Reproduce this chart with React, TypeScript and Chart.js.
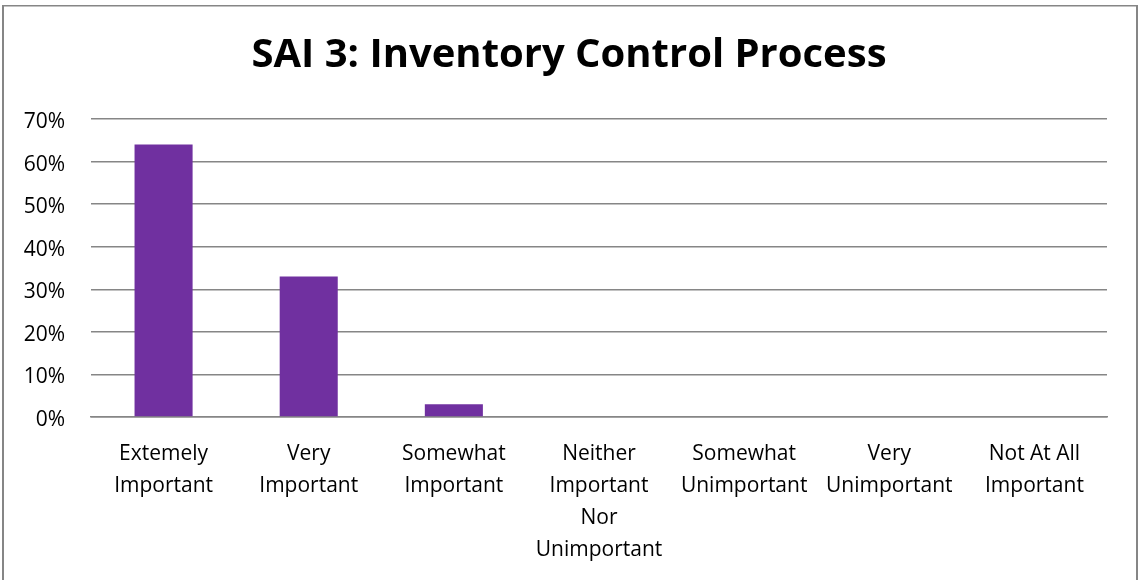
import React, { useEffect, useRef } from "react";
import { Chart, registerables } from "chart.js";

Chart.register(...registerables);

const titleText = "SAI 3: Inventory Control Process";
const categories: string[][] = [
  ["Extemely", "Important"],
  ["Very", "Important"],
  ["Somewhat", "Important"],
  ["Neither", "Important", "Nor", "Unimportant"],
  ["Somewhat", "Unimportant"],
  ["Very", "Unimportant"],
  ["Not At All", "Important"],
];
const values: number[] = [64, 33, 3, 0, 0, 0, 0];
const yTicks: number[] = [0, 10, 20, 30, 40, 50, 60, 70];

const FONT = "'Open Sans', 'DejaVu Sans', sans-serif";

const borderPlugin = {
  id: "outerBorder",
  afterLayout(chart: any) {
    // center the title on the whole canvas, like the reference
    if (chart.titleBlock) {
      chart.titleBlock.left = 0;
      chart.titleBlock.right = chart.width;
      chart.titleBlock.width = chart.width;
    }
  },
  afterDraw(chart: any) {
    const ctx = chart.ctx;
    ctx.save();
    ctx.fillStyle = "#868686";
    ctx.fillRect(2, 5, 2, chart.height - 5);
    ctx.fillRect(2, 5, chart.width - 4, 1.5);
    ctx.fillRect(chart.width - 2, 5, 2, chart.height - 5);
    ctx.restore();
  },
};

export default function App() {
  const ref = useRef<HTMLCanvasElement | null>(null);
  useEffect(() => {
    if (!ref.current) return;
    const chart = new Chart(ref.current, {
      type: "bar",
      data: {
        labels: categories,
        datasets: [
          {
            data: values,
            backgroundColor: "#7030A0",
            borderWidth: 0,
            barPercentage: 0.4,
            categoryPercentage: 1,
          },
        ],
      },
      options: {
        animation: false,
        responsive: true,
        maintainAspectRatio: false,
        layout: { padding: { top: 0, left: 0, right: 31, bottom: 0 } },
        plugins: {
          legend: { display: false },
          tooltip: { enabled: false },
          title: {
            display: true,
            text: titleText,
            color: "#000",
            font: { family: FONT, size: 40, weight: "bold", lineHeight: 1.2 },
            padding: { top: 32, bottom: 39 },
          },
        },
        scales: {
          x: {
            afterFit(scale: any) {
              scale.height = 163;
            },
            grid: { display: false, drawTicks: false },
            border: { display: true, color: "#868686", width: 1.5 },
            ticks: {
              color: "#000",
              font: { family: FONT, size: 21, lineHeight: 1.52 },
              padding: 21,
              maxRotation: 0,
              autoSkip: false,
            },
          },
          y: {
            min: 0,
            max: 70,
            afterFit(scale: any) {
              scale.width = 91;
            },
            afterBuildTicks(scale: any) {
              scale.ticks = yTicks.map((v) => ({ value: v }));
            },
            grid: { color: "#868686", lineWidth: 1.5, drawTicks: false },
            border: { display: false },
            ticks: {
              color: "#000",
              font: { family: FONT, size: 21 },
              padding: 26,
              labelOffset: 3,
              callback: (v: any) => v + "%",
            },
          },
        },
      },
      plugins: [borderPlugin],
    });
    return () => chart.destroy();
  }, []);
  return (
    <div
      style={{
        position: "fixed",
        left: 0,
        top: 0,
        width: 1138,
        height: 580,
        background: "#fff",
      }}
    >
      <canvas ref={ref} />
    </div>
  );
}
